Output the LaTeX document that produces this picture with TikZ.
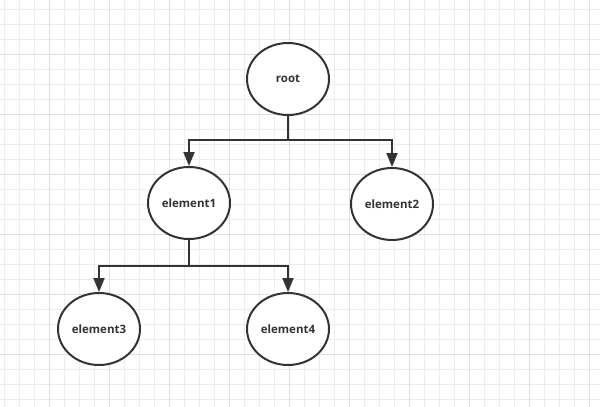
\documentclass[tikz,border=0pt]{standalone}
\usepackage{fontspec}
\setmainfont{Open Sans}
\usetikzlibrary{arrows.meta}
\definecolor{minorgrid}{HTML}{EDEDED}
\definecolor{majorgrid}{HTML}{DFDFDF}
\definecolor{ink}{HTML}{333333}
\tikzset{
  elem/.style={draw=ink, line width=2pt, ellipse, minimum width=82pt, minimum height=72pt, inner sep=0pt, font=\bfseries\fontsize{11.5}{13}\selectfont, text=ink, fill=white},
  conn/.style={draw=ink, line width=2pt},
  arr/.style={conn, -{Triangle[length=14pt,width=11pt]}}
}
\usetikzlibrary{shapes.geometric}
\begin{document}
\begin{tikzpicture}[x=1pt,y=-1pt]
\useasboundingbox (0,0) rectangle (600,407);
\fill[white] (0,0) rectangle (600,407);
\foreach \i in {0,...,40} {
  \draw[minorgrid, line width=1pt] (4+15*\i,0) -- (4+15*\i,407);
}
\foreach \j in {0,...,27} {
  \draw[minorgrid, line width=1pt] (0,9+15*\j) -- (600,9+15*\j);
}
\foreach \i in {0,...,10} {
  \draw[majorgrid, line width=1pt] (49+60*\i,0) -- (49+60*\i,407);
}
\foreach \j in {0,...,7} {
  \draw[majorgrid, line width=1pt] (0,54+60*\j) -- (600,54+60*\j);
}
\node[elem] (root) at (288,79) {root};
\node[elem] (e1) at (189,203) {element1};
\node[elem] (e2) at (392,204) {element2};
\node[elem] (e3) at (99,329) {element3};
\node[elem] (e4) at (288,329) {element4};
\coordinate (j1) at (288,140);
\coordinate (j2) at (189,266);
\draw[conn] (root.south) -- (j1);
\draw[arr] (j1) -- (189,140) -- (e1.north);
\draw[arr] (j1) -- (392,140) -- (e2.north);
\draw[conn] (e1.south) -- (j2);
\draw[arr] (j2) -- (99,266) -- (e3.north);
\draw[arr] (j2) -- (288,266) -- (e4.north);
\end{tikzpicture}
\end{document}
